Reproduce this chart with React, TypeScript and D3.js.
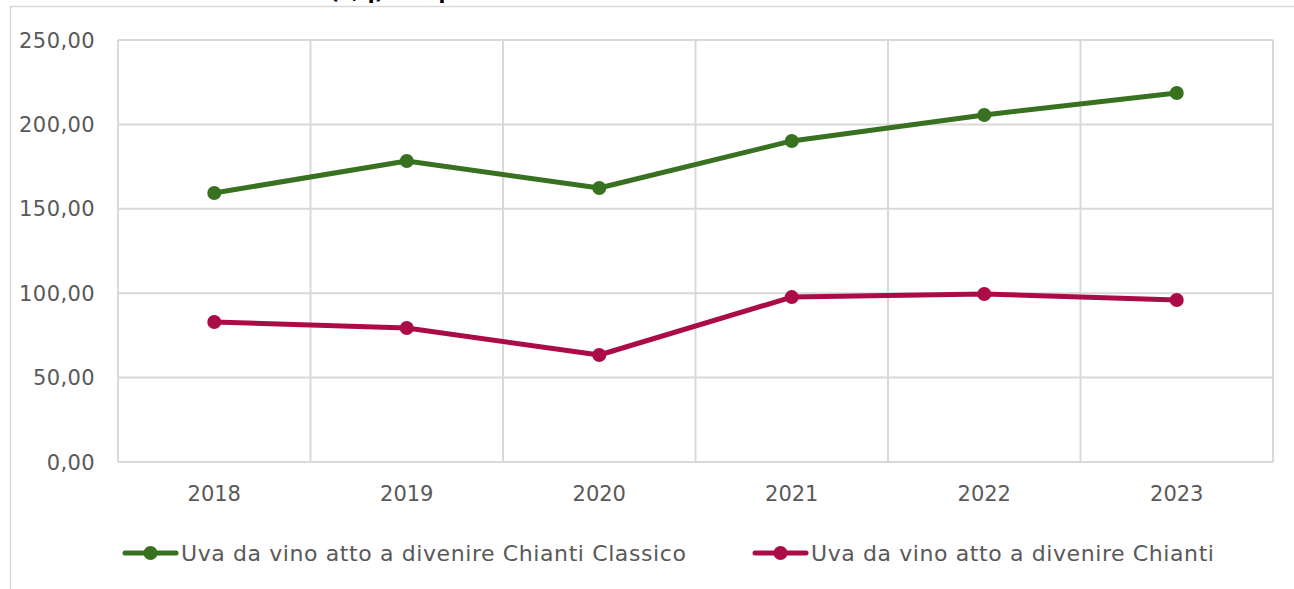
import React, { useEffect, useRef } from "react";
import * as d3 from "d3";

const years = ["2018", "2019", "2020", "2021", "2022", "2023"];
const chiantiClassico = [159.4, 178.3, 162.3, 190.2, 205.6, 218.6];
const chianti = [82.9, 79.4, 63.4, 97.7, 99.5, 96.0];
const yTicks = [0, 50, 100, 150, 200, 250];

const seriesNames = [
  "Uva da vino atto a divenire Chianti Classico",
  "Uva da vino atto a divenire Chianti",
];
const seriesColors = ["#38711f", "#ab0c47"];

const App = () => {
  const ref = useRef<SVGSVGElement | null>(null);

  useEffect(() => {
    const svg = d3.select(ref.current);
    svg.selectAll("*").remove();

    const width = 1294;
    const height = 589;
    const margin = { top: 40, right: 21, bottom: 127, left: 118 };
    const font = "'DejaVu Sans', sans-serif";

    // outer chart frame
    svg
      .append("path")
      .attr("d", `M10.5,${height} V6.5 H${width}`)
      .attr("fill", "none")
      .attr("stroke", "#d9d9d9")
      .attr("stroke-width", 1.5);

    // title, cut off at the top edge like in the source
    svg
      .append("text")
      .attr("x", 330)
      .attr("y", -1)
      .style("font-family", font)
      .style("font-weight", "bold")
      .style("font-size", "20px")
      .attr("fill", "#000")
      .text("(€/q) uva per");

    const x = d3
      .scaleBand()
      .domain(years)
      .range([margin.left, width - margin.right]);

    const y = d3
      .scaleLinear()
      .domain([0, 250])
      .range([height - margin.bottom, margin.top]);

    const g = svg.append("g");

    // horizontal grid
    g.selectAll(".hgrid")
      .data(yTicks)
      .enter()
      .append("line")
      .attr("x1", margin.left)
      .attr("x2", width - margin.right)
      .attr("y1", (d) => y(d))
      .attr("y2", (d) => y(d))
      .attr("stroke", "#d9d9d9")
      .attr("stroke-width", 2);

    // vertical grid at category boundaries
    const bounds = years.map((d) => x(d) as number).concat([width - margin.right]);
    g.selectAll(".vgrid")
      .data(bounds)
      .enter()
      .append("line")
      .attr("x1", (d) => d)
      .attr("x2", (d) => d)
      .attr("y1", margin.top)
      .attr("y2", height - margin.bottom)
      .attr("stroke", "#d9d9d9")
      .attr("stroke-width", 2);

    // y labels
    const fmt = (v: number) => v.toFixed(2).replace(".", ",");
    g.selectAll(".ylab")
      .data(yTicks)
      .enter()
      .append("text")
      .attr("x", 95)
      .attr("y", (d) => y(d))
      .attr("dy", "0.36em")
      .attr("text-anchor", "end")
      .style("font-family", font)
      .style("font-size", "21px")
      .style("letter-spacing", "0.4px")
      .attr("fill", "#595959")
      .text(fmt);

    // x labels
    g.selectAll(".xlab")
      .data(years)
      .enter()
      .append("text")
      .attr("x", (d) => (x(d) as number) + x.bandwidth() / 2)
      .attr("y", 493)
      .attr("dy", "0.36em")
      .attr("text-anchor", "middle")
      .style("font-family", font)
      .style("font-size", "21px")
      .attr("fill", "#595959")
      .text((d) => d);

    const cx = (i: number) => (x(years[i]) as number) + x.bandwidth() / 2;
    const line = d3
      .line<number>()
      .x((_, i) => cx(i))
      .y((d) => y(d));

    [chiantiClassico, chianti].forEach((values, s) => {
      g.append("path")
        .datum(values)
        .attr("d", line)
        .attr("fill", "none")
        .attr("stroke", seriesColors[s])
        .attr("stroke-width", 5)
        .attr("stroke-linejoin", "round")
        .attr("stroke-linecap", "round");

      g.selectAll(`.pt${s}`)
        .data(values)
        .enter()
        .append("circle")
        .attr("cx", (_, i) => cx(i))
        .attr("cy", (d) => y(d))
        .attr("r", 7)
        .attr("fill", seriesColors[s]);
    });

    // legend
    const legendX = [123, 753];
    const legendY = 553;
    seriesNames.forEach((name, s) => {
      const lg = svg.append("g").attr("transform", `translate(${legendX[s]},${legendY})`);
      lg.append("line")
        .attr("x1", 2)
        .attr("x2", 53)
        .attr("stroke", seriesColors[s])
        .attr("stroke-width", 5)
        .attr("stroke-linecap", "round");
      lg.append("circle").attr("cx", 27.5).attr("r", 7).attr("fill", seriesColors[s]);
      lg.append("text")
        .attr("x", 58)
        .attr("dy", "0.36em")
        .style("font-family", font)
        .style("font-size", "22px")
        .style("letter-spacing", "0.6px")
        .attr("fill", "#595959")
        .text(name);
    });
  }, []);

  return (
    <svg
      ref={ref}
      width={1294}
      height={589}
      style={{ position: "absolute", left: 0, top: 0, background: "#fff" }}
    />
  );
};

export default App;
